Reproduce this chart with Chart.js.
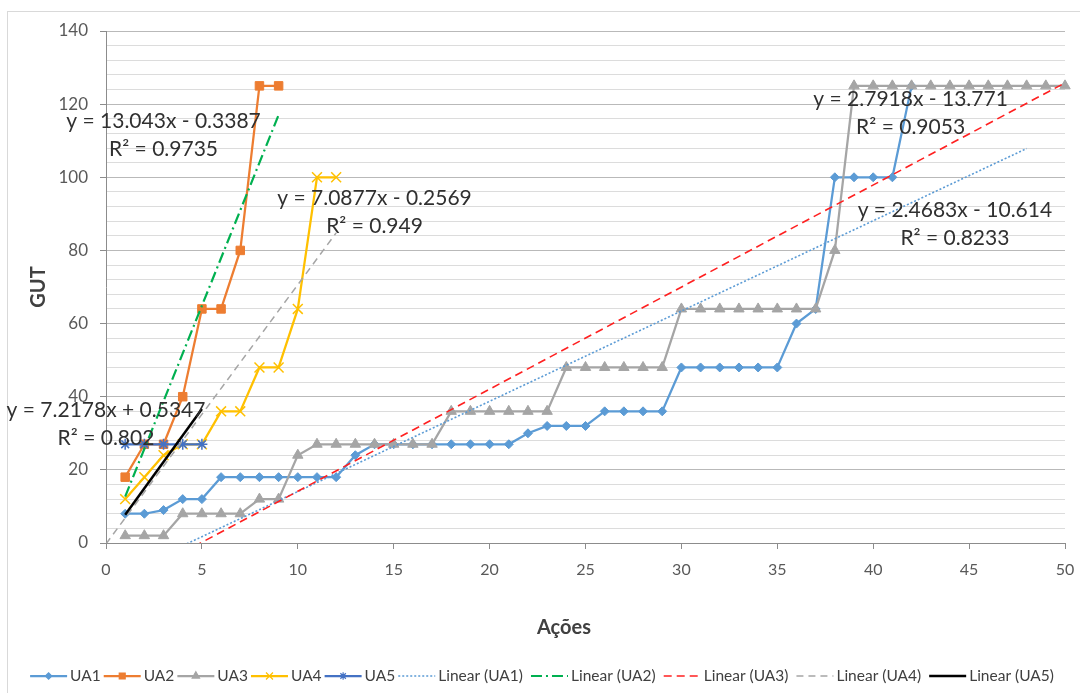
<!DOCTYPE html>
<html><head><meta charset="utf-8">
<script src="https://cdn.jsdelivr.net/npm/chart.js@4.4.1/dist/chart.umd.min.js"></script>
<style>html,body{margin:0;padding:0;background:#fff;}#wrap{width:1080px;height:693px;position:relative;}</style>
</head><body><div id="wrap"><canvas id="c" width="1080" height="693"></canvas></div>
<script>
// ---------- data ----------
const acoes = [1,2,3,4,5,6,7,8,9,10,11,12,13,14,15,16,17,18,19,20,21,22,23,24,25,26,27,28,29,30,31,32,33,34,35,36,37,38,39,40,41,42,43,44,45,46,47,48,49,50];
const ua1 = [8,8,9,12,12,18,18,18,18,18,18,18,24,27,27,27,27,27,27,27,27,30,32,32,32,36,36,36,36,48,48,48,48,48,48,60,64,100,100,100,100,125];
const ua2 = [18,27,27,40,64,64,80,125,125];
const ua3 = [2,2,2,8,8,8,8,12,12,24,27,27,27,27,27,27,27,36,36,36,36,36,36,48,48,48,48,48,48,64,64,64,64,64,64,64,64,80,125,125,125,125,125,125,125,125,125,125,125,125];
const ua4 = [12,18,24,27,27,36,36,48,48,64,100,100];
const ua5 = [27,27,27,27,27];
const seriesNames = ['UA1','UA2','UA3','UA4','UA5'];
const trendNames = ['Linear (UA1)','Linear (UA2)','Linear (UA3)','Linear (UA4)','Linear (UA5)'];
const trendSlope = [2.4683, 13.043, 2.7918, 7.0877, 7.2178];
const trendIntercept = [-10.614, -0.3387, -13.771, -0.2569, 0.5347];
const trendFrom = [1, 1, 1, 0, 1];
const trendTo = [48, 9, 50, 12, 5];
const trendEquation = ['y = 2.4683x - 10.614','y = 13.043x - 0.3387','y = 2.7918x - 13.771','y = 7.0877x - 0.2569','y = 7.2178x + 0.5347'];
const trendR2 = ['R² = 0.8233','R² = 0.9735','R² = 0.9053','R² = 0.949','R² = 0.802'];
const yTickLabels = [0,20,40,60,80,100,120,140];
const xTickLabels = [0,5,10,15,20,25,30,35,40,45,50];
const xTitle = 'Ações';
const yTitle = 'GUT';

// ---------- styles ----------
const FONT = 'Lato, "Open Sans", sans-serif';
const seriesColor = ['#5B9BD5','#ED7D31','#A5A5A5','#FFC000','#4472C4'];
const seriesMarker = ['rectRot','rect','triangle','crossRot','star'];
const seriesRadius = [4.5,6,6,7,5.5];
const trendColor = ['#5B9BD5','#00B050','#FF2020','#A5A5A5','#000000'];
const trendDash = [[2,2],[11,4,2,4],[8,5],[7,5],[]];
const trendWidth = [1.6,2.2,1.6,1.5,2.5];
// label anchors (data units) for the equation boxes
const labelPos = [[44.26,91.0],[3.0,115.4],[41.95,121.4],[14.0,94.3],[0.0,36.4]];

const seriesData = [ua1,ua2,ua3,ua4,ua5];
const datasets = [];
seriesData.forEach((ys,i)=>{
  datasets.push({
    label: seriesNames[i],
    data: ys.map((y,k)=>({x: acoes[k], y})),
    showLine: true,
    borderColor: seriesColor[i],
    backgroundColor: seriesColor[i],
    borderWidth: 2.25,
    pointStyle: seriesMarker[i],
    pointRadius: seriesRadius[i],
    pointBorderWidth: (seriesMarker[i]==='crossRot'||seriesMarker[i]==='star') ? 1.5 : 1,
    pointBorderColor: seriesColor[i],
    pointBackgroundColor: seriesColor[i],
    tension: 0,
    clip: 12,
    order: 20 - i
  });
});
trendSlope.forEach((m,i)=>{
  const b = trendIntercept[i];
  datasets.push({
    label: trendNames[i],
    data: [{x: trendFrom[i], y: m*trendFrom[i]+b},{x: trendTo[i], y: m*trendTo[i]+b}],
    showLine: true,
    borderColor: trendColor[i],
    borderDash: trendDash[i],
    borderWidth: trendWidth[i],
    pointRadius: 0,
    clip: 0,
    order: 10 - i
  });
});

const decor = {
  id: 'decor',
  beforeDraw(chart){
    const ctx = chart.ctx;
    ctx.save();
    ctx.fillStyle = '#fff';
    ctx.fillRect(0,0,chart.width,chart.height);
    ctx.strokeStyle = '#d9d9d9';
    ctx.lineWidth = 1;
    ctx.strokeRect(7.5, 11.5, 1200, 800);
    ctx.restore();
  },
  afterDatasetsDraw(chart){
    const ctx = chart.ctx;
    const xs = chart.scales.x, ys = chart.scales.y;
    ctx.save();
    ctx.fillStyle = '#303030';
    ctx.font = '21px ' + FONT;
    ctx.textAlign = 'center';
    ctx.textBaseline = 'middle';
    labelPos.forEach((p,i)=>{
      const px = xs.getPixelForValue(p[0]);
      const py = ys.getPixelForValue(p[1]);
      ctx.fillText(trendEquation[i], px, py);
      ctx.fillText(trendR2[i], px, py + 28);
    });
    ctx.restore();
  },
  afterDraw(chart){
    const ctx = chart.ctx;
    const ca = chart.chartArea;
    ctx.save();
    ctx.fillStyle = '#404040';
    ctx.font = 'bold 20px ' + FONT;
    ctx.textAlign = 'center';
    ctx.textBaseline = 'middle';
    ctx.fillText(xTitle, 564, 628);
    ctx.translate(39, (ca.top+ca.bottom)/2);
    ctx.rotate(-Math.PI/2);
    ctx.fillText(yTitle, 0, 0);
    ctx.restore();
    // legend
    ctx.save();
    ctx.font = '15.5px ' + FONT;
    ctx.textBaseline = 'middle';
    ctx.textAlign = 'left';
    const items = [];
    seriesNames.forEach((n,i)=>items.push({text:n, type:'s', i}));
    trendNames.forEach((n,i)=>items.push({text:n, type:'t', i}));
    const symW = 37, gapT = 3, gapS = 3, gapTrend = 8;
    let total = 0;
    items.forEach((it,k)=>{
      it.w = ctx.measureText(it.text).width;
      total += symW + gapT + it.w;
      if (k < items.length-1) total += (it.type==='t' ? gapTrend : gapS);
    });
    let x = 542 - total/2;
    const y = 676;
    items.forEach((it,k)=>{
      ctx.save();
      if (it.type==='s'){
        const c = seriesColor[it.i];
        ctx.strokeStyle = c; ctx.fillStyle = c; ctx.lineWidth = 2.25; ctx.setLineDash([]);
        ctx.beginPath(); ctx.moveTo(x, y); ctx.lineTo(x+symW, y); ctx.stroke();
        ctx.lineWidth = 1.2;
        Chart.helpers.drawPoint(ctx, {pointStyle: seriesMarker[it.i], radius: seriesRadius[it.i]*0.7, rotation: 0, borderWidth: 1.2}, x+symW/2, y);
      } else {
        ctx.strokeStyle = trendColor[it.i]; ctx.lineWidth = trendWidth[it.i];
        ctx.setLineDash(trendDash[it.i]);
        ctx.beginPath(); ctx.moveTo(x, y); ctx.lineTo(x+symW, y); ctx.stroke();
      }
      ctx.restore();
      x += symW + gapT;
      ctx.fillStyle = '#404040';
      ctx.fillText(it.text, x, y);
      x += it.w + (it.type==='t' ? gapTrend : gapS);
    });
    ctx.restore();
  }
};

new Chart(document.getElementById('c'), {
  type: 'scatter',
  data: { datasets },
  options: {
    responsive: false,
    animation: false,
    events: [],
    layout: { padding: { left: 0, right: 15, top: 31, bottom: 0 } },
    plugins: { legend: { display: false }, tooltip: { enabled: false } },
    scales: {
      x: {
        type: 'linear', min: 0, max: 50,
        afterBuildTicks: s => { s.ticks = xTickLabels.map(v=>({value:v})); },
        ticks: { font: { family: FONT, size: 16 }, color: '#595959', padding: 11, maxRotation: 0, autoSkip: false },
        grid: { drawOnChartArea: false, drawTicks: true, tickLength: 6, tickColor: '#8c8c8c' },
        border: { color: '#8c8c8c', width: 1 },
        afterFit: s => { s.height = 150; s.paddingRight = 0; s.paddingLeft = 0; }
      },
      y: {
        type: 'linear', min: 0, max: 140,
        ticks: {
          stepSize: 4, autoSkip: false,
          callback: v => yTickLabels.includes(v) ? String(v) : '',
          font: { family: FONT, size: 17 }, color: '#595959', padding: 12
        },
        grid: {
          color: ctx => (ctx.tick && yTickLabels.includes(ctx.tick.value)) ? '#b9b9b9' : '#dcdcdc',
          lineWidth: 1,
          tickLength: 6,
          tickColor: ctx => (ctx.tick && yTickLabels.includes(ctx.tick.value)) ? '#8c8c8c' : 'rgba(0,0,0,0)'
        },
        border: { color: '#8c8c8c', width: 1 },
        afterFit: s => { s.width = 106; s.paddingTop = 0; s.paddingBottom = 0; }
      }
    }
  },
  plugins: [decor]
});
</script>
</body></html>
